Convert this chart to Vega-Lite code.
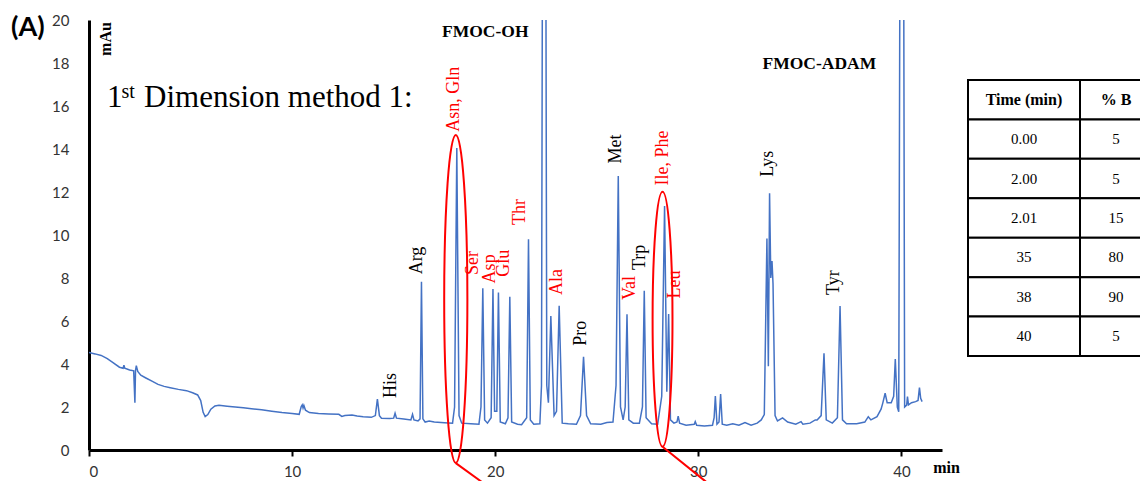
{
  "$schema": "https://vega.github.io/schema/vega-lite/v6.json",
  "background": "white",
  "padding": {"left": 11, "top": 13, "right": 0, "bottom": 0},
  "autosize": {"type": "pad"},
  "config": {"view": {"stroke": null}},
  "bounds": "flush",
  "spacing": 26,
  "datasets": {
    "trace": [
      {"t":0.00,"v":4.53},{"t":0.30,"v":4.47},{"t":0.60,"v":4.40},{"t":0.90,"v":4.25},{"t":1.20,"v":4.05},{"t":1.50,"v":3.85},{"t":1.68,"v":3.80},{"t":1.72,"v":3.95},{"t":1.76,"v":3.80},{"t":2.00,"v":3.72},{"t":2.20,"v":3.68},{"t":2.26,"v":2.20},{"t":2.29,"v":3.70},{"t":2.33,"v":3.92},{"t":2.40,"v":3.65},{"t":2.55,"v":3.48},{"t":2.80,"v":3.35},{"t":3.10,"v":3.20},{"t":3.40,"v":3.05},{"t":3.70,"v":2.96},{"t":4.00,"v":2.90},{"t":4.40,"v":2.82},{"t":4.80,"v":2.76},{"t":5.10,"v":2.66},{"t":5.35,"v":2.56},{"t":5.50,"v":2.30},{"t":5.62,"v":1.75},{"t":5.72,"v":1.55},{"t":5.85,"v":1.65},{"t":6.00,"v":1.90},{"t":6.20,"v":2.05},{"t":6.40,"v":2.08},{"t":6.80,"v":2.04},{"t":7.20,"v":2.00},{"t":7.60,"v":1.96},{"t":8.00,"v":1.92},{"t":8.50,"v":1.87},{"t":9.00,"v":1.80},{"t":9.50,"v":1.74},{"t":10.00,"v":1.70},{"t":10.35,"v":1.66},{"t":10.45,"v":2.02},{"t":10.50,"v":2.10},{"t":10.54,"v":1.95},{"t":10.58,"v":2.07},{"t":10.66,"v":1.85},{"t":10.85,"v":1.74},{"t":11.30,"v":1.70},{"t":11.80,"v":1.68},{"t":12.30,"v":1.66},{"t":12.45,"v":1.56},{"t":12.60,"v":1.60},{"t":12.95,"v":1.63},{"t":13.20,"v":1.58},{"t":13.50,"v":1.55},{"t":13.90,"v":1.52},{"t":14.10,"v":1.60},{"t":14.20,"v":2.37},{"t":14.30,"v":1.60},{"t":14.40,"v":1.48},{"t":14.80,"v":1.46},{"t":15.00,"v":1.48},{"t":15.07,"v":1.71},{"t":15.14,"v":1.48},{"t":15.50,"v":1.44},{"t":15.85,"v":1.40},{"t":15.93,"v":1.66},{"t":16.00,"v":1.40},{"t":16.20,"v":1.35},{"t":16.30,"v":1.45},{"t":16.37,"v":7.83},{"t":16.44,"v":1.45},{"t":16.55,"v":1.30},{"t":16.75,"v":1.35},{"t":17.00,"v":1.30},{"t":17.50,"v":1.27},{"t":17.90,"v":1.25},{"t":18.00,"v":2.0},{"t":18.11,"v":14.05},{"t":18.22,"v":1.6},{"t":18.35,"v":1.25},{"t":18.80,"v":1.22},{"t":19.20,"v":1.20},{"t":19.30,"v":2.0},{"t":19.39,"v":7.52},{"t":19.48,"v":1.4},{"t":19.62,"v":1.25},{"t":19.80,"v":1.5},{"t":19.89,"v":7.49},{"t":19.97,"v":1.8},{"t":20.08,"v":1.8},{"t":20.16,"v":7.32},{"t":20.25,"v":1.3},{"t":20.50,"v":1.22},{"t":20.63,"v":1.5},{"t":20.72,"v":7.13},{"t":20.81,"v":1.3},{"t":21.10,"v":1.20},{"t":21.30,"v":1.18},{"t":21.55,"v":1.5},{"t":21.64,"v":9.80},{"t":21.73,"v":1.4},{"t":21.90,"v":1.20},{"t":22.20,"v":1.22},{"t":22.28,"v":3.0},{"t":22.41,"v":60},{"t":22.54,"v":3.0},{"t":22.62,"v":2.2},{"t":22.74,"v":6.23},{"t":22.90,"v":1.6},{"t":23.02,"v":1.8},{"t":23.15,"v":6.71},{"t":23.30,"v":1.25},{"t":23.60,"v":1.22},{"t":24.00,"v":1.20},{"t":24.20,"v":1.6},{"t":24.35,"v":4.34},{"t":24.50,"v":1.6},{"t":24.70,"v":1.22},{"t":25.20,"v":1.20},{"t":25.50,"v":1.28},{"t":25.80,"v":1.3},{"t":25.95,"v":3.0},{"t":26.06,"v":12.74},{"t":26.17,"v":2.0},{"t":26.30,"v":1.4},{"t":26.40,"v":2.0},{"t":26.49,"v":6.31},{"t":26.58,"v":1.4},{"t":26.80,"v":1.25},{"t":27.10,"v":1.25},{"t":27.25,"v":2.0},{"t":27.34,"v":7.41},{"t":27.43,"v":1.5},{"t":27.70,"v":1.22},{"t":28.00,"v":1.20},{"t":28.20,"v":2.5},{"t":28.34,"v":11.35},{"t":28.45,"v":2.71},{"t":28.54,"v":6.33},{"t":28.63,"v":1.4},{"t":28.80,"v":1.25},{"t":28.95,"v":1.3},{"t":29.01,"v":1.58},{"t":29.08,"v":1.25},{"t":29.40,"v":1.15},{"t":29.80,"v":1.2},{"t":29.85,"v":1.32},{"t":29.92,"v":1.15},{"t":30.30,"v":1.12},{"t":30.70,"v":1.15},{"t":30.78,"v":1.5},{"t":30.84,"v":2.51},{"t":30.92,"v":1.2},{"t":31.02,"v":1.3},{"t":31.10,"v":2.60},{"t":31.18,"v":1.2},{"t":31.40,"v":1.15},{"t":31.70,"v":1.22},{"t":32.00,"v":1.15},{"t":32.30,"v":1.28},{"t":32.60,"v":1.15},{"t":32.90,"v":1.25},{"t":33.10,"v":1.40},{"t":33.25,"v":1.65},{"t":33.38,"v":9.84},{"t":33.45,"v":3.9},{"t":33.51,"v":11.94},{"t":33.57,"v":8.0},{"t":33.63,"v":8.79},{"t":33.68,"v":7.72},{"t":33.78,"v":1.6},{"t":33.90,"v":1.35},{"t":34.15,"v":1.49},{"t":34.40,"v":1.30},{"t":34.80,"v":1.20},{"t":35.06,"v":1.32},{"t":35.15,"v":1.2},{"t":35.50,"v":1.25},{"t":35.76,"v":1.40},{"t":35.85,"v":1.4},{"t":36.05,"v":1.6},{"t":36.19,"v":4.50},{"t":36.30,"v":1.4},{"t":36.60,"v":1.25},{"t":36.85,"v":1.5},{"t":36.98,"v":6.70},{"t":37.10,"v":1.4},{"t":37.30,"v":1.22},{"t":37.80,"v":1.22},{"t":38.20,"v":1.30},{"t":38.37,"v":1.55},{"t":38.50,"v":1.40},{"t":38.80,"v":1.55},{"t":39.00,"v":1.9},{"t":39.08,"v":2.17},{"t":39.20,"v":2.64},{"t":39.30,"v":2.2},{"t":39.50,"v":2.2},{"t":39.62,"v":2.5},{"t":39.70,"v":4.23},{"t":39.80,"v":2.0},{"t":39.87,"v":1.78},{"t":40.03,"v":60},{"t":40.16,"v":2.0},{"t":40.26,"v":2.09},{"t":40.30,"v":2.48},{"t":40.35,"v":2.1},{"t":40.50,"v":2.2},{"t":40.70,"v":2.25},{"t":40.82,"v":2.3},{"t":40.89,"v":2.9},{"t":40.95,"v":2.4},{"t":41.02,"v":2.25}
    ],
    "peaks": [
      {"name":"His","t":14.88,"v":2.42,"g":"other"},
      {"name":"Arg","t":16.13,"v":8.17,"g":"other"},
      {"name":"Asn, Gln","t":17.98,"v":14.8,"g":"target"},
      {"name":"Ser","t":18.9,"v":8.14,"g":"target"},
      {"name":"Asp","t":19.72,"v":7.75,"g":"target"},
      {"name":"Glu","t":20.42,"v":8.06,"g":"target"},
      {"name":"Thr","t":21.2,"v":10.47,"g":"target"},
      {"name":"Ala","t":23.03,"v":7.21,"g":"target"},
      {"name":"Pro","t":24.24,"v":4.85,"g":"other"},
      {"name":"Met","t":25.94,"v":13.33,"g":"other"},
      {"name":"Val","t":26.65,"v":6.98,"g":"target"},
      {"name":"Trp","t":27.14,"v":8.37,"g":"other"},
      {"name":"Ile, Phe","t":28.28,"v":12.3,"g":"target"},
      {"name":"Leu","t":28.87,"v":7.05,"g":"target"},
      {"name":"Lys","t":33.42,"v":12.71,"g":"other"},
      {"name":"Tyr","t":36.7,"v":7.21,"g":"other"}
    ],
    "gradient": [
      {"row":0,"col":"time","text":"Time (min)"},{"row":0,"col":"pctB","text":"% B"},
      {"row":1,"col":"time","text":"0.00"},{"row":1,"col":"pctB","text":"5"},
      {"row":2,"col":"time","text":"2.00"},{"row":2,"col":"pctB","text":"5"},
      {"row":3,"col":"time","text":"2.01"},{"row":3,"col":"pctB","text":"15"},
      {"row":4,"col":"time","text":"35"},{"row":4,"col":"pctB","text":"80"},
      {"row":5,"col":"time","text":"38"},{"row":5,"col":"pctB","text":"90"},
      {"row":6,"col":"time","text":"40"},{"row":6,"col":"pctB","text":"5"}
    ]
  },
  "hconcat": [
    {
      "width": 853,
      "height": 430,
      "encoding": {
        "x": {"field":"t","type":"quantitative","scale":{"domain":[0,42],"nice":false,"zero":false},
          "axis":{"values":[0,10,20,30,40],"grid":false,"domainColor":"black","domainWidth":3,"tickColor":"black","tickWidth":2,"tickSize":6,
            "labelFont":"Lato","labelFontSize":15,"labelColor":"#333","labelPadding":8,
            "title":"min","titleFont":"Liberation Serif","titleFontWeight":"bold","titleFontSize":16,"titleColor":"black",
            "titleX":857,"titleY":17,"titleAlign":"center","titleBaseline":"middle"}},
        "y": {"field":"v","type":"quantitative","scale":{"domain":[0,20],"nice":false},
          "axis":{"values":[0,2,4,6,8,10,12,14,16,18,20],"grid":false,"ticks":false,"domainColor":"black","domainWidth":3,
            "labelFont":"Lato","labelFontSize":15,"labelColor":"#333","labelPadding":20,
            "title":"mAu","titleFont":"Liberation Serif","titleFontWeight":"bold","titleFontSize":16,"titleColor":"black",
            "titleX":16,"titleY":18.5,"titleAngle":270,"titleAlign":"center","titleBaseline":"middle"}}
      },
      "layer": [
        {"data":{"name":"trace"},"mark":{"type":"line","color":"#4472C4","strokeWidth":1.5,"clip":true}},
        {"data":{"values":[{"label":"Asn, Gln","t":18.06,"v":7.02}]},
         "mark":{"type":"point","filled":false,"stroke":"#FF0000","strokeWidth":2,"opacity":1,"size":107584,
           "shape":"M0,-1A0.0707,1,0,1,1,0,1A0.0707,1,0,1,1,0,-1M0,1L0.22,1.16"}},
        {"data":{"values":[{"label":"Ile, Phe","t":28.24,"v":6.08}]},
         "mark":{"type":"point","filled":false,"stroke":"#FF0000","strokeWidth":2,"opacity":1,"size":65025,
           "shape":"M0,-1A0.078,1,0,1,1,0,1A0.078,1,0,1,1,0,-1M0,1L0.41,1.33"}},
        {"data":{"name":"peaks"},
         "mark":{"type":"text","angle":270,"align":"left","baseline":"middle","font":"Liberation Serif","fontSize":18},
         "encoding":{"text":{"field":"name"},
           "color":{"field":"g","type":"nominal","scale":{"domain":["other","target"],"range":["black","#FF0000"]},"legend":null}}},
        {"data":{"values":[{"text":"FMOC-OH","t":19.51,"v":19.44},{"text":"FMOC-ADAM","t":35.96,"v":17.95}]},
         "mark":{"type":"text","align":"center","baseline":"middle","font":"Liberation Serif","fontWeight":"bold","fontSize":17.5,"color":"black"},
         "encoding":{"text":{"field":"text"}}},
        {"data":{"values":[{"text":"1","t":0.887,"v":15.95},{"text":"Dimension method 1:","t":2.71,"v":15.95}]},
         "mark":{"type":"text","align":"left","baseline":"alphabetic","font":"Liberation Serif","fontSize":31,"color":"black"},
         "encoding":{"text":{"field":"text"}}},
        {"data":{"values":[{"text":"st","t":1.6,"v":16.35}]},
         "mark":{"type":"text","align":"left","baseline":"alphabetic","font":"Liberation Serif","fontSize":20,"color":"black"},
         "encoding":{"text":{"field":"text"}}},
        {"data":{"values":[{"text":"(A)","t":-3.84,"v":19.63}]},
         "mark":{"type":"text","align":"left","baseline":"middle","font":"Lato","fontWeight":"bold","fontSize":27,"color":"black"},
         "encoding":{"text":{"field":"text"}}}
      ]
    },
    {
      "spacing": 0,
      "bounds": "flush",
      "hconcat": [
        {
          "width": 112, "height": 430,
          "data": {"name":"gradient"},
          "transform": [{"filter":"datum.col == 'time'"}],
          "encoding": {
            "x": {"field":"col","type":"nominal","axis":null,"scale":{"paddingInner":0,"paddingOuter":0}},
            "y": {"field":"row","type":"ordinal","axis":null,"scale":{"range":[60,336],"paddingInner":0,"paddingOuter":0}}
          },
          "layer": [
            {"mark":{"type":"rect","fill":"white","stroke":"black","strokeWidth":2}},
            {"transform":[{"filter":"datum.row > 0"}],"mark":{"type":"text","font":"Liberation Serif","fontSize":15,"color":"black"},"encoding":{"text":{"field":"text"}}},
            {"transform":[{"filter":"datum.row == 0"}],"mark":{"type":"text","font":"Liberation Serif","fontSize":16,"fontWeight":"bold","color":"black"},"encoding":{"text":{"field":"text"}}}
          ]
        },
        {
          "width": 72, "height": 430,
          "data": {"name":"gradient"},
          "transform": [{"filter":"datum.col == 'pctB'"}],
          "encoding": {
            "x": {"field":"col","type":"nominal","axis":null,"scale":{"paddingInner":0,"paddingOuter":0}},
            "y": {"field":"row","type":"ordinal","axis":null,"scale":{"range":[60,336],"paddingInner":0,"paddingOuter":0}}
          },
          "layer": [
            {"mark":{"type":"rect","fill":"white","stroke":"black","strokeWidth":2}},
            {"transform":[{"filter":"datum.row > 0"}],"mark":{"type":"text","font":"Liberation Serif","fontSize":15,"color":"black"},"encoding":{"text":{"field":"text"}}},
            {"transform":[{"filter":"datum.row == 0"}],"mark":{"type":"text","font":"Liberation Serif","fontSize":16,"fontWeight":"bold","color":"black"},"encoding":{"text":{"field":"text"}}}
          ]
        }
      ]
    }
  ]
}
